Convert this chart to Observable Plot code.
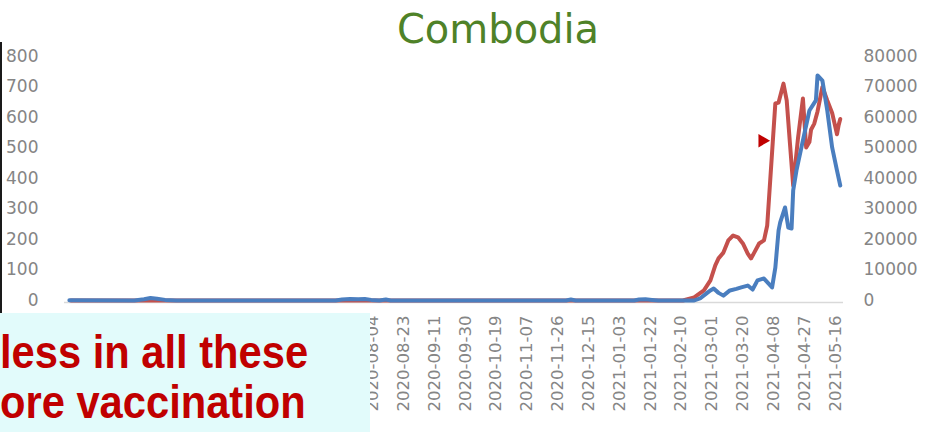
<!DOCTYPE html>
<html><head><meta charset="utf-8">
<script src="https://cdn.jsdelivr.net/npm/d3@7"></script>
<script src="https://cdn.jsdelivr.net/npm/@observablehq/plot@0.6"></script>
<style>
html,body{margin:0;padding:0;background:#fff;}
#wrap{position:relative;width:942px;height:432px;overflow:hidden;background:#fff;}
#chart{position:absolute;left:0;top:0;}
#title{position:absolute;left:0;width:996px;top:4px;text-align:center;font-family:"DejaVu Sans";font-size:40px;line-height:50px;color:#4f8228;}
#edge{position:absolute;left:0;top:42px;width:2px;height:271px;background:#1a1a1a;}
#note{position:absolute;left:0;top:313px;width:370px;height:119px;background:#e2fbfb;overflow:hidden;}
#note div{position:absolute;left:0;font-family:"Liberation Sans",Arial,sans-serif;font-weight:bold;font-size:46px;line-height:46px;color:#c00000;white-space:nowrap;transform-origin:0 0;transform:scaleX(0.906);}
</style></head>
<body>
<div id="wrap">
  <div id="chart"></div>
  <div id="title">Combodia</div>
  <div id="edge"></div>
  <div id="note"><div style="top:16px">less in all these</div><div style="top:66px">ore vaccination</div></div>
</div>
<script>
const xTickLabels = ["2020-01-27","2020-02-15","2020-03-05","2020-03-24","2020-04-12","2020-05-01","2020-05-20","2020-06-08","2020-06-27","2020-07-16","2020-08-04","2020-08-23","2020-09-11","2020-09-30","2020-10-19","2020-11-07","2020-11-26","2020-12-15","2021-01-03","2021-01-22","2021-02-10","2021-03-01","2021-03-20","2021-04-08","2021-04-27","2021-05-16"];
const leftTicks = [0,100,200,300,400,500,600,700,800];
const rightTicks = [0,10000,20000,30000,40000,50000,60000,70000,80000];

const blueDates = ["2020-01-30","2020-03-10","2020-03-16","2020-03-20","2020-03-24","2020-03-29","2020-04-05","2020-07-12","2020-07-16","2020-07-21","2020-07-26","2020-07-30","2020-08-03","2020-08-08","2020-08-12","2020-08-15","2020-12-01","2020-12-04","2020-12-07","2021-01-12","2021-01-15","2021-01-19","2021-01-23","2021-01-27","2021-02-18","2021-02-22","2021-02-26","2021-02-28","2021-03-02","2021-03-05","2021-03-08","2021-03-12","2021-03-16","2021-03-19","2021-03-23","2021-03-26","2021-03-29","2021-04-02","2021-04-06","2021-04-07","2021-04-09","2021-04-11","2021-04-12","2021-04-15","2021-04-17","2021-04-19","2021-04-20","2021-04-22","2021-04-26","2021-04-30","2021-05-04","2021-05-05","2021-05-08","2021-05-11","2021-05-14","2021-05-17","2021-05-19"];
const blueValues = [1,0,4,8,6,2,0,0,3,5,4,5,2,0,3,0,0,3,0,0,3,4,2,0,0,8,25,33,39,25,16,33,38,43,49,36,66,72,49,43,108,230,256,305,239,236,361,426,525,623,656,738,721,623,502,426,377];

const redDates = ["2020-01-31","2021-02-11","2021-02-18","2021-02-24","2021-02-28","2021-03-03","2021-03-05","2021-03-08","2021-03-11","2021-03-14","2021-03-17","2021-03-20","2021-03-23","2021-03-25","2021-03-27","2021-03-30","2021-04-02","2021-04-04","2021-04-09","2021-04-11","2021-04-14","2021-04-16","2021-04-18","2021-04-20","2021-04-23","2021-04-26","2021-04-28","2021-04-30","2021-05-01","2021-05-03","2021-05-05","2021-05-08","2021-05-11","2021-05-14","2021-05-17","2021-05-18","2021-05-19"];
const redValues = [0,0,1000,3300,6600,11500,13800,15700,19700,21300,20700,18700,15400,13800,15700,18700,19700,24600,64600,64900,71100,65600,51500,37700,53400,66200,50200,52000,56000,58000,62000,70000,65600,61500,54500,57500,59500];

const markerDates = ["2021-04-01"];
const markerValues = [524];

const parse = d3.utcParse("%Y-%m-%d");
const fmt = d3.utcFormat("%Y-%m-%d");
const blue = blueDates.map((d, i) => ({date: parse(d), v: blueValues[i]}));
const red = redDates.map((d, i) => ({date: parse(d), v: redValues[i]}));
const markers = markerDates.map((d, i) => ({date: parse(d), v: markerValues[i]}));
const RATIO = 100; // right axis units per left axis unit

const chart = Plot.plot({
  width: 942,
  height: 432,
  marginTop: 56,
  marginBottom: 132,
  marginLeft: 64,
  marginRight: 99,
  style: {fontFamily: "DejaVu Sans", fontSize: "17px", color: "#858585", background: "transparent"},
  x: {type: "utc", domain: [parse("2020-01-27"), parse("2021-05-21")]},
  y: {domain: [0, 800]},
  marks: [
    Plot.ruleY([0], {stroke: "#d9d9d9", strokeWidth: 1.5, dy: 2}),
    Plot.lineY(red, {x: "date", y: d => d.v / RATIO, stroke: "#c4504c", strokeWidth: 4, strokeLinejoin: "round"}),
    Plot.lineY(blue, {x: "date", y: "v", stroke: "#4a7ebf", strokeWidth: 4, strokeLinejoin: "round"}),
    Plot.dot(markers, {x: "date", y: "v", symbol: "triangle", rotate: 90, r: 5, fill: "#c00000", stroke: "none"}),
    Plot.axisY({anchor: "left", ticks: leftTicks, tickSize: 0, tickPadding: 26, label: null, fontSize: 17, fill: "#858585"}),
    Plot.axisY({anchor: "right", ticks: rightTicks.map(v => v / RATIO), tickFormat: d => String(Math.round(d * RATIO)), tickSize: 0, tickPadding: 20, label: null, fontSize: 17, fill: "#858585"}),
    Plot.axisX({ticks: xTickLabels.map(parse), tickFormat: fmt, tickRotate: -90, tickSize: 0, tickPadding: 15, label: null, fontSize: 16.5, fill: "#858585"})
  ]
});
document.getElementById("chart").appendChild(chart);
</script>
</body></html>
